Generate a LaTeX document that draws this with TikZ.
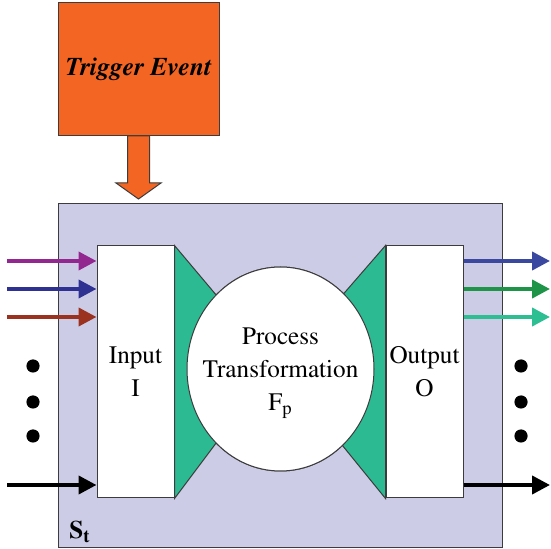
\documentclass[tikz,border=0pt]{standalone}
\usepackage[T1]{fontenc}
\usepackage{mathptmx}
\usetikzlibrary{positioning, shapes.geometric, arrows.meta}
\definecolor{trig-orange}{RGB}{243,101,35}
\definecolor{sys-lilac}{RGB}{204,204,230}
\definecolor{funnel-green}{RGB}{43,186,145}
\definecolor{edge-gray}{RGB}{60,60,60}
\definecolor{in-purple}{RGB}{146,39,143}
\definecolor{in-blue}{RGB}{46,49,146}
\definecolor{in-brown}{RGB}{155,50,32}
\definecolor{out-blue}{RGB}{58,72,160}
\definecolor{out-green}{RGB}{30,148,72}
\definecolor{out-teal}{RGB}{45,190,145}

\begin{document}
\begin{tikzpicture}[x=0.5pt, y=-0.5pt]
				\tikzset{box/.style={rectangle, draw=edge-gray, line width=0.5pt, inner sep=0pt}}
				\tikzset{arr/.style={-{Triangle[length=9pt, width=9pt]}, line width=2pt}}
				\tikzset{lbl/.style={font=\fontsize{12.6}{16.5}\selectfont, align=center}}
				\tikzset{funnel/.style={fill=funnel-green, draw=edge-gray, line width=0.5pt}}
				\tikzset{blob/.style={ellipse, draw=edge-gray, line width=0.5pt, fill=white, inner sep=0pt, minimum width=93.5pt, minimum height=102pt}}
				\useasboundingbox (0,0) rectangle (551,549);
				
				\node[box, fill=sys-lilac, minimum width=222pt, minimum height=171.5pt] (sys) at (280,375.5) {};
				\node[box, fill=trig-orange, minimum width=80.5pt, minimum height=66.5pt, lbl, font=\fontsize{12.8}{16.5}\selectfont\bfseries\itshape] (trigger) at (138.5,69) {Trigger Event};
				\draw[fill=trig-orange, draw=edge-gray, line width=0.5pt]
				(trigger.south)++(-11,0)
				-- ++(0,47)
				-- ++(-11.5,0)
				-- ++(22.5,16)
				-- ++(22.5,-16)
				-- ++(-11.5,0)
				-- ++(0,-47)
				-- cycle;
				
				\node[box, fill=white, minimum width=38.5pt, minimum height=126pt, lbl] (inp) at (135.5,372) {Input\\I};
				\node[box, fill=white, minimum width=38.5pt, minimum height=126pt, lbl] (outp) at (424.5,372) {Output\\O};
				\node[blob] (proc) at (280.5,369) {};
				\draw[funnel] (inp.north east) -- (proc.131) -- (proc.229) -- (inp.south east) -- cycle;
				\draw[funnel] (outp.north west) -- (proc.50) -- (proc.-51) -- (outp.south west) -- cycle;
				\node[blob] at (proc) {};
				\node[lbl] (proc text) at (280.5,373) {Process\\Transformation\\F\textsubscript{p}};
				\node[box, minimum width=38.5pt, minimum height=126pt] at (inp) {};
				\node[box, minimum width=38.5pt, minimum height=126pt] at (outp) {};
				
				% inputs
				\coordinate (in1) at (7,261);
				\coordinate (in2) at (7,289);
				\coordinate (in3) at (7,317);
				\coordinate (in4) at (7,485);
				\draw[arr, in-purple] (in1) -- (inp.west |- in1);
				\draw[arr, in-blue] (in2) -- (inp.west |- in2);
				\draw[arr, in-brown] (in3) -- (inp.west |- in3);
				\draw[arr, black] (in4) -- (inp.west |- in4);
				
				% outputs
				\coordinate (out1) at (550,261);
				\coordinate (out2) at (550,289);
				\coordinate (out3) at (550,317);
				\coordinate (out4) at (550,485);
				\draw[arr, out-blue] (outp.east |- out1) -- (out1);
				\draw[arr, out-green] (outp.east |- out2) -- (out2);
				\draw[arr, out-teal] (outp.east |- out3) -- (out3);
				\draw[arr, black] (outp.east |- out4) -- (out4);
				
				\foreach \y in {366,402,436} {
					\fill (33,\y) circle (3.3pt);
					\fill (521,\y) circle (3.3pt);
				}
				
				\node[lbl, font=\fontsize{12.6}{16.5}\selectfont\bfseries] (state) at (80,532) {S\textsubscript{t}};
			\end{tikzpicture}
\end{document}
